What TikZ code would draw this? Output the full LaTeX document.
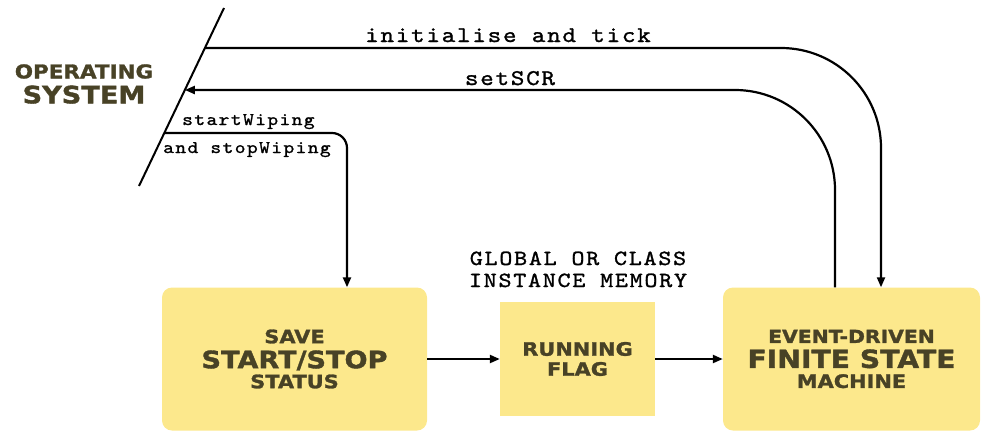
\documentclass[tikz,border=0pt]{standalone}
\usepackage{fontspec}
\usetikzlibrary{arrows.meta,calc}
\newfontfamily\heavy{DejaVu Sans}[FakeStretch=1.13,FakeBold=1.5]
\newfontfamily\monof{lmmono10-regular}[Extension=.otf,FakeStretch=1.15,LetterSpace=8,FakeBold=1.2]
\definecolor{boxfill}{RGB}{252,232,140}
\definecolor{txt}{RGB}{72,66,38}
\newcommand{\fsz}[1]{\fontsize{#1}{22}\selectfont}
\begin{document}
\begin{tikzpicture}[x=1pt,y=-1pt,
  >={Triangle[length=10pt,width=8pt]},
  box/.style={fill=boxfill, draw=none, rounded corners=10pt, inner sep=0pt,
    text=txt, align=center, font=\heavy\bfseries\fsz{18.5}},
  flagbox/.style={box, rounded corners=0pt},
  lab/.style={font=\monof\fontsize{22.4}{18.5}\selectfont, inner sep=0pt, anchor=base},
  memlab/.style={font=\monof\fontsize{21.6}{18.5}\selectfont, inner sep=0pt, anchor=base},
  smalllab/.style={font=\monof\fontsize{17.8}{18}\selectfont, inner sep=0pt, anchor=base west},
  flow/.style={draw, line width=2.2pt, ->},
  osline/.style={draw, line width=2pt}]
\useasboundingbox (0,0) rectangle (981,431);
% boxes
\node[box, minimum width=265pt, minimum height=143pt] (save) at (294.5,359)
  {\fsz{18.5}SAVE\\[3pt]\fsz{24}START/STOP\\[-2pt]\fsz{18.5}STATUS};
\node[flagbox, minimum width=155pt, minimum height=114pt] (flag) at (577.5,359)
  {\fsz{18.5}RUNNING\\[-2pt]\fsz{18.5}FLAG};
\node[box, minimum width=257pt, minimum height=143pt] (fsm) at (851.5,359)
  {\fsz{18}EVENT-DRIVEN\\[3pt]\fsz{25}FINITE STATE\\[-2pt]\fsz{18.5}MACHINE};
% operating system
\node[inner sep=0pt, text=txt, align=center, font=\heavy\bfseries\fsz{19}] (os) at (84,84)
  {\fsz{19}OPERATING\\[3pt]\fsz{24}SYSTEM};
\coordinate (ostop) at (224,8);
\coordinate (osbot) at (139,186);
\draw[osline] (ostop) -- (osbot);
\coordinate (a1) at ($(ostop)!0.2247!(osbot)$);
\coordinate (a2) at ($(ostop)!0.4607!(osbot)$);
\coordinate (a3) at ($(ostop)!0.7022!(osbot)$);
% connectors
\draw[flow, rounded corners=100pt] (a1) -| ($(fsm.north)+(29.5,0)$);
\draw[flow, rounded corners=100pt] ($(fsm.north)+(-16.5,0)$) |- (a2);
\draw[flow, rounded corners=15pt] (a3) -| ($(save.north)+(52.5,0)$);
\draw[flow] (save.east) -- (flag.west);
\draw[flow] (flag.east) -- (fsm.west);
% labels
\node[lab] (l1) at (508,42) {initialise and tick};
\node[lab] (l2) at (510,85) {setSCR};
\node[smalllab] (l3) at (182,125) {startWiping};
\node[smalllab] (l4) at (163,153) {and stopWiping};
\node[memlab] (mem1) at (578,265) {GLOBAL OR CLASS};
\node[memlab] (mem2) at (578,287) {INSTANCE MEMORY};
\end{tikzpicture}
\end{document}
